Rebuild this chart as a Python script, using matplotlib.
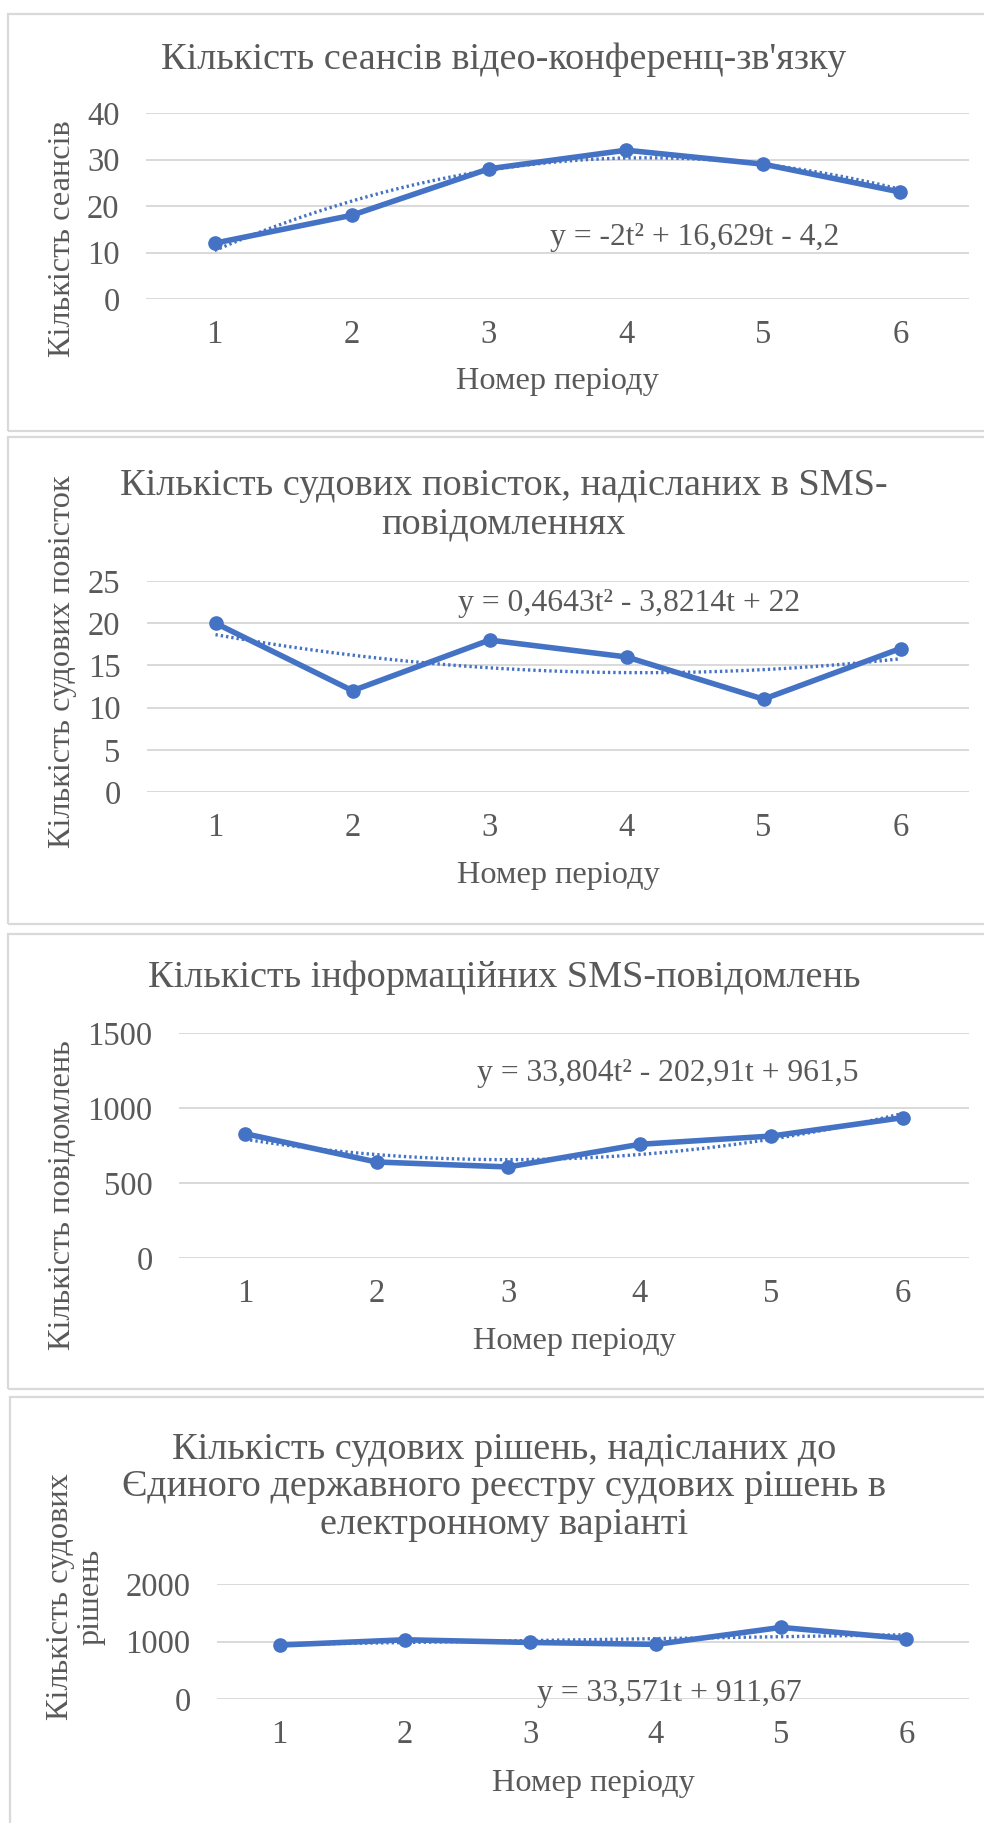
import matplotlib
matplotlib.use("Agg")
import matplotlib.pyplot as plt
from matplotlib.patches import Rectangle
import numpy as np

plt.rcParams['font.family'] = ['Liberation Serif', 'DejaVu Serif']

periods = [1, 2, 3, 4, 5, 6]

video_sessions = [12, 18, 28, 32, 29, 23]
sms_summons = [20, 12, 18, 16, 11, 17]
info_sms = [829, 640, 607, 758, 813, 936]
decisions = [938, 1030, 983, 950, 1245, 1052]

titles = [
    "Кількість сеансів відео-конференц-зв'язку",
    "Кількість судових повісток, надісланих в SMS-\nповідомленнях",
    "Кількість інформаційних SMS-повідомлень",
    "Кількість судових рішень, надісланих до\nЄдиного державного реєстру судових рішень в\nелектронному варіанті",
]
ylabels = [
    "Кількість сеансів",
    "Кількість судових повісток",
    "Кількість повідомлень",
    "Кількість судових\nрішень",
]
equations = [
    "y = -2t² + 16,629t - 4,2",
    "y = 0,4643t² - 3,8214t + 22",
    "y = 33,804t² - 202,91t + 961,5",
    "y = 33,571t + 911,67",
]
fit_degree = [2, 2, 2, 1]
yticks = [[0, 10, 20, 30, 40], [0, 5, 10, 15, 20, 25],
          [0, 500, 1000, 1500], [0, 1000, 2000]]
xlabel = "Номер періоду"

W, H = 984, 1823
BLUE = '#4472C4'
TXT = '#595959'
GRID = '#D9D9D9'

fig = plt.figure(figsize=(W / 100, H / 100), dpi=100)

# layout in pixels: panel box, axes box, title y, ylabel pos, xlabel y, equation pos
panels = [(14, 431), (437, 924), (934, 1389), (1397, 1840)]
axboxes = [(146, 113, 969, 299), (147, 581, 969, 792),
           (179, 1033, 969, 1258), (217, 1584, 969, 1699)]
title_y = [60, 505, 978, 1487]
ylab_pos = [(63, 239), (63, 662), (63, 1195), (76, 1597)]
xlab_y = [382, 875, 1342, 1783]
eq_pos = [(550, 237), (458, 603), (477, 1073), (537, 1693)]


def fx(px):
    return px / W


def fy(py):
    return 1 - py / H


series = [video_sessions, sms_summons, info_sms, decisions]

for i, vals in enumerate(series):
    top, bot = panels[i]
    left_edge = 10 if i == 3 else 8
    fig.add_artist(Rectangle((fx(left_edge), fy(bot)), fx(1000 - left_edge),
                             (bot - top) / H, transform=fig.transFigure,
                             fill=False, ec=GRID, lw=1.6))

    l, t, r, b = axboxes[i]
    ax = fig.add_axes([fx(l), fy(b), (r - l) / W, (b - t) / H])
    ax.plot(periods, vals, color=BLUE, lw=4.0, marker='o', ms=9.5, zorder=3,
            solid_joinstyle='round')

    coef = np.polyfit(periods, vals, fit_degree[i])
    tt = np.linspace(1, 6, 200)
    ax.plot(tt, np.polyval(coef, tt), color=BLUE, lw=2.4, ls=(0, (0.7, 0.9)), zorder=2)

    ax.set_xlim(0.5, 6.5)
    ax.set_ylim(yticks[i][0], yticks[i][-1])
    ax.set_xticks(periods)
    ax.set_yticks(yticks[i])
    ax.tick_params(length=0, labelsize=23.5, labelcolor=TXT)
    ax.tick_params(axis='x', pad=15)
    ax.tick_params(axis='y', pad=19)
    for s in ax.spines.values():
        s.set_visible(False)
    ax.grid(axis='y', color=GRID, lw=1.4)
    ax.set_axisbelow(True)

    fig.text(0.512, fy(title_y[i]), titles[i], ha='center', va='center',
             fontsize=27.5, color=TXT, linespacing=1.12)
    fig.text(fx(ylab_pos[i][0]), fy(ylab_pos[i][1]), ylabels[i], rotation=90,
             ha='center', va='center', fontsize=23.3, color=TXT, linespacing=1.05)
    fig.text(fx((l + r) / 2), fy(xlab_y[i]), xlabel, ha='center', va='center',
             fontsize=23.3, color=TXT)
    fig.text(fx(eq_pos[i][0]), fy(eq_pos[i][1]), equations[i], ha='left',
             va='center', fontsize=22.8, color=TXT)

fig.savefig("out.png", dpi=100, facecolor='white')
